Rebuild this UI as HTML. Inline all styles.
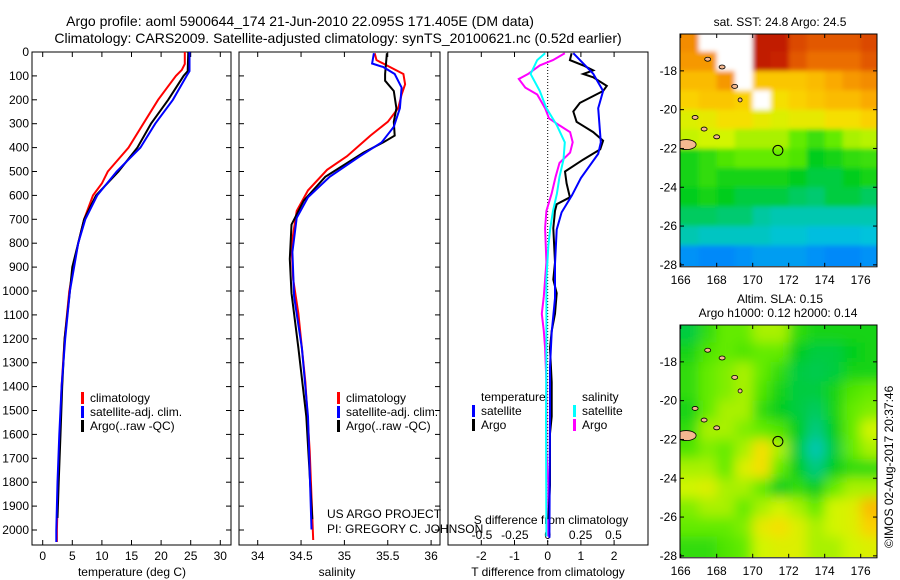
<!DOCTYPE html>
<html><head><meta charset="utf-8"><style>
body{margin:0;background:#fff}
svg{display:block;font-family:"Liberation Sans",sans-serif}
text{font-size:12px;fill:#000}
</style></head><body>
<svg id="fig" width="900" height="580" viewBox="0 0 900 580" xmlns="http://www.w3.org/2000/svg">
<defs>
<filter id="blurS" x="-5%" y="-5%" width="110%" height="110%"><feGaussianBlur stdDeviation="2.5"/></filter>
<filter id="blurL" x="-5%" y="-5%" width="110%" height="110%"><feGaussianBlur stdDeviation="6"/></filter>
<clipPath id="clip1"><rect x="680" y="34" width="197" height="232"/></clipPath>
<clipPath id="clip2"><rect x="680" y="325" width="197" height="232"/></clipPath>
</defs>
<text x="300" y="26" text-anchor="middle" style="font-size:14px">Argo profile: aoml 5900644_174 21-Jun-2010 22.095S 171.405E (DM data)</text>
<text x="338" y="43" text-anchor="middle" style="font-size:14px">Climatology: CARS2009. Satellite-adjusted climatology: synTS_20100621.nc (0.52d earlier)</text>
<g id="g1"></g>
<g id="g2"></g>
<g id="g3"></g>
<g id="g4"></g>
<g id="g5"></g>
<text x="327" y="518">US ARGO PROJECT</text>
<text x="327" y="533">PI: GREGORY C. JOHNSON</text>
<text transform="translate(893,548) rotate(-90)" style="font-size:12px">©IMOS 02-Aug-2017 20:37:46</text>
</svg>
<script>
// ---- data ----
const tClimD=[0,50,75,100,150,200,300,400,500,550,600,700,800,900,1000,1200,1400,1600,1800,2000,2050];
const tClimV=[24.0,24.0,23.5,22.5,21,19.5,17,14.5,11,10,8.5,7,6,5.2,4.5,3.7,3.2,2.9,2.6,2.4,2.4];
const tSatD=[0,80,100,200,300,400,500,600,700,800,900,1000,1200,1400,1600,1800,2000,2050];
const tSatV=[24.8,24.8,24.3,22,19,16.5,12.5,9.2,7.2,6,5.3,4.6,3.8,3.2,2.8,2.5,2.3,2.3];
const tArgoD=[0,80,100,200,300,400,500,600,700,800,900,1000,1200,1400,1600,1800,1950];
const tArgoV=[24.6,24.5,23.8,21.2,18.3,16,12.8,9,7,6,5,4.6,3.7,3.3,3,2.7,2.5];
const sClimD=[5,34,77,92,135,178,235,292,350,436,493,579,665,808,952,1095,1239,1382,1669,2042];
const sClimV=[35.35,35.37,35.6,35.68,35.7,35.66,35.62,35.5,35.3,35.03,34.8,34.58,34.45,34.39,34.41,34.47,34.51,34.55,34.6,34.64];
const sSatD=[5,48,63,92,149,235,313,378,436,522,608,694,837,1023,1239,1525,1998];
const sSatV=[35.34,35.32,35.45,35.58,35.66,35.64,35.57,35.43,35.18,34.83,34.58,34.45,34.4,34.42,34.51,34.58,34.62];
const sArgoD=[5,92,120,163,235,292,350,378,421,522,622,722,866,1009,1239,1525,1955];
const sArgoV=[35.49,35.47,35.47,35.57,35.6,35.57,35.58,35.45,35.22,34.78,34.53,34.39,34.37,34.39,34.47,34.56,34.63];
const dtSatD=[5,91,163,235,378,426,527,600,671,743,886,1030,1173,1316,1531,2033];
const dtSatV=[0.77,1.37,1.67,1.52,1.6,1.52,1.0,0.73,0.42,0.27,0.22,0.22,0.12,0.07,0.07,0.05];
const dtArgoD=[5,34,56,77,92,106,142,163,213,249,292,335,371,407,450,500,550,608,637,665,737,880,952,1009,1095,1167,1239,1382,1525,1597,1812,1955];
const dtArgoV=[0.72,0.67,1.07,1.37,1.07,1.37,1.78,1.67,0.97,0.77,0.87,1.37,1.67,1.58,1.07,0.52,0.57,0.67,0.27,0.22,0.17,0.22,0.17,0.27,0.22,0.12,0.07,0.12,0.12,0.07,0.07,0.02];
const dsSatD=[5,34,92,163,235,307,378,450,522,593,665,737,808,952,1239,1525,2027];
const dsSatV=[-0.02,-0.08,-0.13,-0.06,-0.01,0.07,0.13,0.12,0.09,0.07,0.04,0.02,0.005,-0.01,-0.01,-0.013,-0.01];
const dsArgoD=[5,34,56,92,113,149,178,235,278,307,335,378,421,464,522,593,665,737,880,1023,1095,1167,1239,1382,1669,1812,2027];
const dsArgoV=[0.13,0.04,-0.06,-0.15,-0.22,-0.17,-0.08,-0.02,0.01,0.09,0.17,0.19,0.17,0.09,0.06,0.03,-0.01,-0.02,-0.01,-0.03,-0.045,-0.03,-0.02,-0.01,-0.01,0.005,0.0];
const depthTicks=[0,100,200,300,400,500,600,700,800,900,1000,1100,1200,1300,1400,1500,1600,1700,1800,1900,2000];
const tTicks=[0,5,10,15,20,25,30];
const sTicks=[34,34.5,35,35.5,36];
const dtTicks=[-2,-1,0,1,2];
const dsTicks=[-0.5,-0.25,0,0.25,0.5];
const lonTicks=[166,168,170,172,174,176];
const latTicks=[-18,-20,-22,-24,-26,-28];
const W=null;
const sstGrid=[
[0.8,W,W,W,0.96,0.96,0.9,0.88,0.88,0.88,0.9],
[0.78,0.78,W,W,0.96,0.95,0.88,0.85,0.85,0.85,0.88],
[0.72,0.72,0.78,W,0.7,0.7,0.7,0.72,0.75,0.78,0.8],
[0.68,0.7,0.7,0.68,W,0.65,0.68,0.7,0.72,0.72,0.75],
[0.6,0.62,0.65,0.65,0.62,0.6,0.62,0.62,0.65,0.65,0.68],
[0.57,0.58,0.58,0.55,0.55,0.55,0.5,0.46,0.5,0.55,0.56],
[0.42,0.45,0.48,0.5,0.5,0.5,0.48,0.4,0.42,0.45,0.46],
[0.42,0.45,0.42,0.42,0.42,0.42,0.4,0.38,0.38,0.4,0.42],
[0.4,0.42,0.4,0.38,0.38,0.38,0.36,0.35,0.38,0.38,0.36],
[0.36,0.36,0.35,0.35,0.32,0.3,0.3,0.3,0.3,0.3,0.3],
[0.3,0.28,0.28,0.28,0.28,0.26,0.26,0.24,0.24,0.24,0.25],
[0.16,0.14,0.14,0.16,0.18,0.18,0.18,0.16,0.14,0.14,0.16]];
const slaGrid=[
[0.38,0.45,0.5,0.5,0.55,0.55,0.45,0.42,0.42,0.42,0.42],
[0.42,0.48,0.5,0.48,0.5,0.5,0.4,0.38,0.38,0.4,0.42],
[0.45,0.5,0.52,0.55,0.5,0.45,0.38,0.37,0.38,0.42,0.42],
[0.45,0.5,0.52,0.55,0.48,0.42,0.38,0.38,0.42,0.48,0.5],
[0.42,0.5,0.55,0.55,0.45,0.4,0.38,0.36,0.42,0.5,0.52],
[0.45,0.55,0.55,0.52,0.5,0.48,0.4,0.34,0.4,0.5,0.58],
[0.48,0.52,0.5,0.55,0.65,0.55,0.38,0.3,0.38,0.5,0.55],
[0.55,0.55,0.5,0.6,0.65,0.5,0.4,0.34,0.4,0.45,0.45],
[0.58,0.6,0.55,0.55,0.5,0.4,0.45,0.4,0.5,0.55,0.55],
[0.52,0.55,0.55,0.5,0.55,0.58,0.55,0.5,0.58,0.6,0.72],
[0.5,0.5,0.5,0.52,0.62,0.65,0.6,0.55,0.58,0.6,0.68],
[0.45,0.45,0.48,0.5,0.58,0.6,0.6,0.55,0.55,0.58,0.6]];
const argoLon=171.4, argoLat=-22.1;

// ---- helpers ----
const NS='http://www.w3.org/2000/svg';
function mk(parent,tag,attrs){const e=document.createElementNS(NS,tag);for(const k in attrs)e.setAttribute(k,attrs[k]);parent.appendChild(e);return e;}
function txt(parent,x,y,s,anchor,size){const t=mk(parent,'text',{x:x,y:y,'text-anchor':anchor||'start'});if(size)t.style.fontSize=size+'px';t.textContent=s;return t;}
const yD=d=>52+d*0.239;
const PT=52,PB=545;
function frame(g,x0,x1){const r=mk(g,'rect',{x:x0,y:PT,width:x1-x0,height:PB-PT,fill:'none',stroke:'#000','stroke-width':1});}
function line(g,D,V,fx,col,name,w){const p=D.map((d,i)=>fx(V[i]).toFixed(1)+','+yD(d).toFixed(1)).join(' ');const e=mk(g,'polyline',{points:p,fill:'none',stroke:col,'stroke-width':w||2});}
function legend(g,x,y,items){items.forEach((it,i)=>{const b=mk(g,'rect',{x:x,y:y+i*14-10,width:3,height:12,fill:it[0]});const t=txt(g,x+9,y+i*14,it[1]);});}
function xticks(g,ticks,fx,y,labelY,fmt){ticks.forEach(v=>{const x=fx(v);mk(g,'line',{x1:x,x2:x,y1:y,y2:y-5,stroke:'#000'});mk(g,'line',{x1:x,x2:x,y1:PT,y2:PT+5,stroke:'#000'});const t=txt(g,x,labelY,fmt?fmt(v):String(v),'middle');});}
function yticks(g,x0,x1,labels){depthTicks.forEach(d=>{const y=yD(d);mk(g,'line',{x1:x0,x2:x0+5,y1:y,y2:y,stroke:'#000'});mk(g,'line',{x1:x1,x2:x1-5,y1:y,y2:y,stroke:'#000'});if(labels){const t=txt(g,x0-3,y+4,String(d),'end');}});}

// panel 1 temperature
const g1=document.getElementById('g1');
const fT=v=>42.7+v*5.92;
frame(g1,32,231);yticks(g1,32,231,true);xticks(g1,tTicks,fT,PB,560);
line(g1,tClimD,tClimV,fT,'#f00','temp-climatology-line');
line(g1,tArgoD,tArgoV,fT,'#000','temp-argo-line');
line(g1,tSatD,tSatV,fT,'#00f','temp-satellite-line');
legend(g1,81,402,[['#f00','climatology'],['#00f','satellite-adj. clim.'],['#000','Argo(..raw -QC)']]);
{const t=txt(g1,132,576,'temperature (deg C)','middle');}

// panel 2 salinity
const g2=document.getElementById('g2');
const fS=v=>257.7+(v-34)*86.7;
frame(g2,239,440);yticks(g2,239,440,false);xticks(g2,sTicks,fS,PB,560);
line(g2,sClimD,sClimV,fS,'#f00','sal-climatology-line');
line(g2,sArgoD,sArgoV,fS,'#000','sal-argo-line');
line(g2,sSatD,sSatV,fS,'#00f','sal-satellite-line');
legend(g2,337,402,[['#f00','climatology'],['#00f','satellite-adj. clim.'],['#000','Argo(..raw -QC)']]);
{const t=txt(g2,337,576,'salinity','middle');}

// panel 3 differences
const g3=document.getElementById('g3');
const fDT=v=>547.7+v*33.2;
const fDS=v=>547.7+v*131.5;
frame(g3,448,648);
mk(g3,'line',{x1:547.7,x2:547.7,y1:PT,y2:PB,stroke:'#000','stroke-dasharray':'1,2'});
xticks(g3,dtTicks,fDT,PB,560);
dsTicks.forEach(v=>{const t=txt(g3,fDS(v),539,String(v),'middle');});
{const t=txt(g3,551,524,'S difference from climatology','middle');}
{const t=txt(g3,548,576,'T difference from climatology','middle');}
line(g3,dsArgoD,dsArgoV,fDS,'#f0f','sal-diff-argo-line');
line(g3,dsSatD,dsSatV,fDS,'#0ff','sal-diff-satellite-line');
line(g3,dtArgoD,dtArgoV,fDT,'#000','temp-diff-argo-line');
line(g3,dtSatD,dtSatV,fDT,'#00f','temp-diff-satellite-line');
{const t=txt(g3,481,401,'temperature');}
{const t=txt(g3,582,401,'salinity');}
legend(g3,472,415,[['#00f','satellite'],['#000','Argo']]);
legend(g3,573,415,[['#0ff','satellite'],['#f0f','Argo']]);

// maps
const stops=[[0,[0,90,230]],[0.15,[0,140,250]],[0.25,[0,195,220]],[0.32,[0,200,160]],[0.4,[0,205,30]],[0.5,[100,235,0]],[0.58,[210,245,0]],[0.66,[250,220,0]],[0.75,[250,170,0]],[0.85,[235,110,0]],[0.93,[210,50,0]],[1,[170,0,0]]];
function cmap(v){for(let i=1;i<stops.length;i++){if(v<=stops[i][0]){const a=stops[i-1],b=stops[i],f=(v-a[0])/(b[0]-a[0]);const c=a[1].map((x,j)=>Math.round(x+(b[1][j]-x)*f));return 'rgb('+c.join(',')+')';}}return 'rgb(170,0,0)';}
function drawMap(g,top,grid,titleLines,name,clip,blur){
 const x0=680,x1=877,lat0=-16.1;
 const fx=lon=>680.7+(lon-166)*18;
 const fy=lat=>top+(lat0-lat)*19.4;
 const bottom=fy(-28.1);
 const cg=mk(g,'g',{'clip-path':'url(#'+clip+')'});
 
 
 const bg=mk(cg,'g',{filter:'url(#'+blur+')'});
 grid.forEach((row,r)=>row.forEach((v,c)=>{
   const lonA=166+c, latA=-16-r;
   let xa=fx(lonA), xb=fx(lonA+1), ya=fy(latA), yb=fy(latA-1);
   if(c===0)xa-=15; if(c===row.length-1)xb+=15; if(r===0)ya-=15; if(r===grid.length-1)yb+=15;
   const e=mk(bg,'rect',{x:xa,y:ya,width:xb-xa+0.5,height:yb-ya+0.5,fill:v===null?'#fff':cmap(v)});
   
   
 }));
 [[166.3,-21.8,10,5],[167.5,-17.4,3,2],[168.3,-17.8,3,2],[169,-18.8,3,2],[169.3,-19.5,2,2],[166.8,-20.4,3,2],[167.3,-21,3,2],[168,-21.4,3,2]].forEach(s=>{const e=mk(cg,'ellipse',{cx:fx(s[0]),cy:fy(s[1]),rx:s[2],ry:s[3],fill:'#f4b890',stroke:'#000','stroke-width':0.8});});
 const c=mk(g,'circle',{cx:fx(argoLon),cy:fy(argoLat),r:5,fill:'none',stroke:'#000','stroke-width':1});
 
 const f=mk(g,'rect',{x:x0,y:top,width:x1-x0,height:bottom-top,fill:'none',stroke:'#000'});
 
 lonTicks.forEach(l=>{const x=fx(l);mk(g,'line',{x1:x,x2:x,y1:bottom,y2:bottom-4,stroke:'#000'});mk(g,'line',{x1:x,x2:x,y1:top,y2:top+4,stroke:'#000'});const t=txt(g,x,bottom+17,String(l),'middle');});
 latTicks.forEach(l=>{const y=fy(l);mk(g,'line',{x1:x0,x2:x0+4,y1:y,y2:y,stroke:'#000'});mk(g,'line',{x1:x1,x2:x1-4,y1:y,y2:y,stroke:'#000'});const t=txt(g,x0-3,y+4,String(l),'end');});
 titleLines.forEach((s,i)=>{const t=txt(g,780-(i===1?2:0),top-8-(titleLines.length-1-i)*14,s,'middle');});
}
drawMap(document.getElementById('g4'),34,sstGrid,['sat. SST: 24.8 Argo: 24.5'],'sst','clip1','blurS');
drawMap(document.getElementById('g5'),325,slaGrid,['Altim. SLA: 0.15','Argo h1000: 0.12 h2000: 0.14'],'sla','clip2','blurL');
</script>
</body></html>
